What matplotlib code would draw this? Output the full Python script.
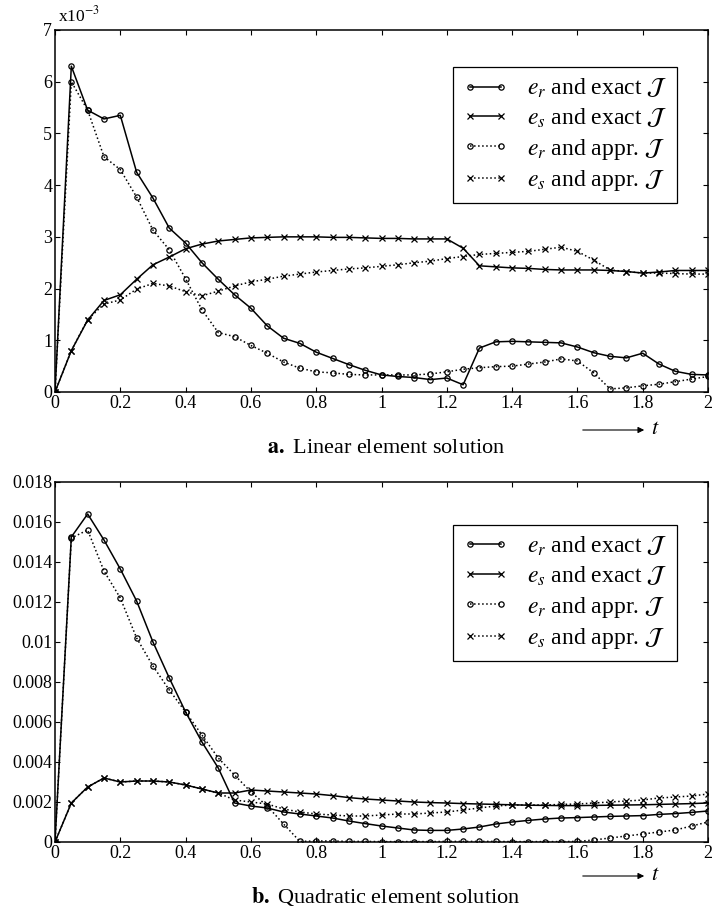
import numpy as np
import matplotlib
matplotlib.use('Agg')
import matplotlib.pyplot as plt
from matplotlib.ticker import FormatStrFormatter

# time grid (step 0.05) shared by both solutions
t = np.round(np.arange(41) * 0.05, 2)

# linear element solution, values in units of 1e-3
er_exact_lin = [0, 6.3, 5.45, 5.28, 5.35, 4.25, 3.75, 3.17, 2.88, 2.5, 2.18, 1.88, 1.62,
                1.28, 1.04, 0.94, 0.77, 0.65, 0.53, 0.42, 0.33, 0.3, 0.28, 0.24, 0.27, 0.14,
                0.85, 0.97, 0.98, 0.97, 0.96, 0.95, 0.87, 0.76, 0.69, 0.66, 0.75, 0.54, 0.4,
                0.34, 0.33]
es_exact_lin = [0, 0.8, 1.39, 1.77, 1.88, 2.18, 2.46, 2.61, 2.77, 2.86, 2.92, 2.95, 2.98,
                2.99, 3.0, 3.0, 3.0, 2.99, 2.99, 2.98, 2.97, 2.97, 2.96, 2.96, 2.96, 2.78,
                2.44, 2.42, 2.4, 2.39, 2.37, 2.36, 2.36, 2.36, 2.35, 2.33, 2.3, 2.32, 2.35,
                2.35, 2.35]
er_appr_lin = [0, 6.0, 5.45, 4.55, 4.3, 3.77, 3.13, 2.75, 2.19, 1.59, 1.15, 1.07, 0.9,
               0.75, 0.58, 0.46, 0.39, 0.37, 0.34, 0.33, 0.33, 0.33, 0.33, 0.35, 0.39, 0.44,
               0.47, 0.49, 0.5, 0.54, 0.58, 0.64, 0.6, 0.37, 0.06, 0.08, 0.12, 0.15, 0.2,
               0.25, 0.3]
es_appr_lin = [0, 0.8, 1.4, 1.7, 1.78, 1.99, 2.1, 2.05, 1.94, 1.86, 1.95, 2.05, 2.13,
               2.18, 2.24, 2.28, 2.32, 2.35, 2.38, 2.4, 2.43, 2.46, 2.5, 2.53, 2.58, 2.62,
               2.66, 2.68, 2.7, 2.72, 2.76, 2.8, 2.72, 2.55, 2.36, 2.33, 2.3, 2.3, 2.29,
               2.28, 2.28]

# quadratic element solution
er_exact_quad = [0, 0.01525, 0.0164, 0.0151, 0.01365, 0.01205, 0.0100, 0.0082, 0.0065,
                 0.0050, 0.0037, 0.00195, 0.0018, 0.0017, 0.0015, 0.0014, 0.0013, 0.0012,
                 0.00105, 0.00092, 0.0008, 0.0007, 0.0006, 0.00058, 0.00058, 0.00065,
                 0.00075, 0.0009, 0.001, 0.00108, 0.00115, 0.0012, 0.00122, 0.00125,
                 0.00128, 0.0013, 0.00132, 0.00138, 0.00142, 0.00148, 0.00155]
es_exact_quad = [0, 0.00195, 0.00275, 0.0032, 0.0030, 0.00305, 0.00305, 0.003, 0.00285,
                 0.00265, 0.00245, 0.00245, 0.0026, 0.00255, 0.0025, 0.00245, 0.0024,
                 0.00232, 0.00222, 0.00215, 0.0021, 0.00205, 0.002, 0.00197, 0.00195,
                 0.00192, 0.0019, 0.00188, 0.00186, 0.00184, 0.00183, 0.00182, 0.00182,
                 0.00183, 0.00184, 0.00185, 0.00186, 0.00188, 0.0019, 0.00192, 0.00195]
er_appr_quad = [0, 0.0152, 0.0156, 0.01355, 0.0122, 0.0102, 0.0088, 0.0076, 0.0065,
                0.00535, 0.0042, 0.00335, 0.0025, 0.0018, 0.0009, 0.00003, 0.00005,
                0.00005, 0.00003, 0.00003, 0.00002, 0.00002, 0.00002, 0.00002, 0.00003,
                0.00003, 0.00003, 0.00003, 0.00002, 0.00002, 0.00002, 0.00002, 0.00003,
                0.0001, 0.0002, 0.0003, 0.0004, 0.0005, 0.0006, 0.0008, 0.001]
es_appr_quad = [0, 0.00195, 0.00275, 0.0032, 0.003, 0.00305, 0.00305, 0.003, 0.00285,
                0.00265, 0.00245, 0.0021, 0.002, 0.0019, 0.00165, 0.0015, 0.0014, 0.00135,
                0.0013, 0.0013, 0.00135, 0.0014, 0.0014, 0.00145, 0.0015, 0.0016, 0.0017,
                0.0018, 0.00185, 0.00185, 0.00185, 0.00188, 0.0019, 0.00195, 0.002,
                0.00205, 0.0021, 0.0022, 0.00225, 0.0023, 0.0024]

labels = [r'$e_r$ and exact $\mathcal{J}$', r'$e_s$ and exact $\mathcal{J}$',
          r'$e_r$ and appr. $\mathcal{J}$', r'$e_s$ and appr. $\mathcal{J}$']
x_ticks = [0, 0.2, 0.4, 0.6, 0.8, 1, 1.2, 1.4, 1.6, 1.8, 2]
y_ticks_lin = [0, 1, 2, 3, 4, 5, 6, 7]
y_ticks_quad = [0, 0.002, 0.004, 0.006, 0.008, 0.01, 0.012, 0.014, 0.016, 0.018]

plt.rcParams['font.family'] = ['Liberation Serif', 'DejaVu Serif']
plt.rcParams['mathtext.fontset'] = 'stix'

W, H = 714, 911
fig = plt.figure(figsize=(W / 100, H / 100), dpi=100)


def px_axes(left, top, right, bottom):
    return fig.add_axes([left / W, 1 - bottom / H, (right - left) / W, (bottom - top) / H])


def draw_panel(ax, series, yticks, ymax, leg_anchor):
    styles = [dict(ls='-', marker='o', mfc='none', ms=3.8),
              dict(ls='-', marker='x', ms=4.5),
              dict(ls=':', marker='o', mfc='none', ms=3.8),
              dict(ls=':', marker='x', ms=4.5)]
    for ys, st, lab in zip(series, styles, labels):
        ax.plot(t, ys, color='k', lw=1.1, mew=0.9, label=lab, **st)
    ax.set_xlim(0, 2)
    ax.set_ylim(0, ymax)
    ax.set_xticks(x_ticks)
    ax.set_yticks(yticks)
    ax.xaxis.set_major_formatter(FormatStrFormatter('%g'))
    ax.yaxis.set_major_formatter(FormatStrFormatter('%g'))
    ax.tick_params(direction='in', top=True, right=True, length=3.5, width=0.8,
                   labelsize=13, pad=2)
    for sp in ax.spines.values():
        sp.set_linewidth(1.1)
    leg = ax.legend(loc='upper right', bbox_to_anchor=leg_anchor, borderaxespad=0,
                    fontsize=17, numpoints=2, handlelength=1.9, handletextpad=0.8,
                    labelspacing=0.28, borderpad=0.42,
                    fancybox=False, edgecolor='k', framealpha=1)
    leg.get_frame().set_linewidth(0.9)


ax1 = px_axes(55, 30, 708, 392)
draw_panel(ax1, [er_exact_lin, es_exact_lin, er_appr_lin, es_appr_lin], y_ticks_lin, 7,
           (0.953, 0.898))
fig.text(58 / W, 1 - 15 / H, r'x10$^{-3}$', fontsize=12.5, va='center')

ax2 = px_axes(55, 482, 708, 842)
draw_panel(ax2, [er_exact_quad, es_exact_quad, er_appr_quad, es_appr_quad], y_ticks_quad,
           0.018, (0.953, 0.881))

# time-direction arrows and panel captions
for y_arrow, y_cap, cap in [(430, 449, r'$\mathbf{a.}$ Linear element solution'),
                            (876, 897, r'$\mathbf{b.}$ Quadratic element solution')]:
    fig.add_artist(matplotlib.patches.FancyArrowPatch(
        (580 / W, 1 - y_arrow / H), (647 / W, 1 - y_arrow / H),
        transform=fig.transFigure, arrowstyle='-|>', mutation_scale=9, lw=0.8, color='k'))
    fig.text(651 / W, 1 - y_arrow / H, r'$t$', fontsize=16, va='center', ha='left')
    fig.text(386 / W, 1 - y_cap / H, cap, fontsize=16, va='center', ha='center')

fig.savefig('out.png', dpi=100)
